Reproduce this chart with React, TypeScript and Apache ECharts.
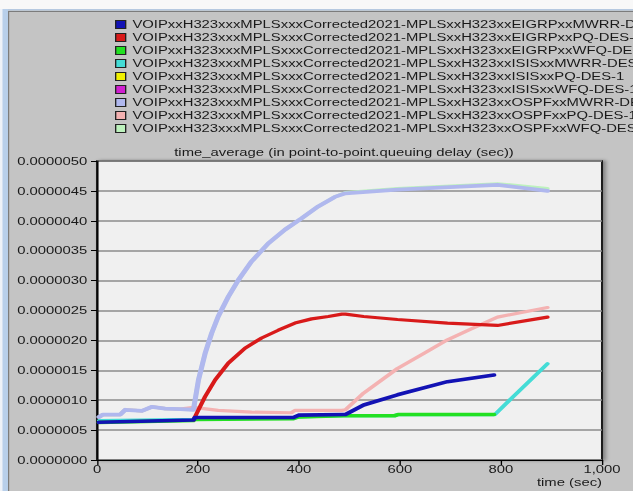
import React, { useEffect, useRef } from "react";
import * as echarts from "echarts";

// ---------- data (time in sec, delay in microseconds) ----------
const seriesNames = [
  "VOIPxxH323xxxMPLSxxxCorrected2021-MPLSxxH323xxEIGRPxxMWRR-DES-1",
  "VOIPxxH323xxxMPLSxxxCorrected2021-MPLSxxH323xxEIGRPxxPQ-DES-1",
  "VOIPxxH323xxxMPLSxxxCorrected2021-MPLSxxH323xxEIGRPxxWFQ-DES-1",
  "VOIPxxH323xxxMPLSxxxCorrected2021-MPLSxxH323xxISISxxMWRR-DES-1",
  "VOIPxxH323xxxMPLSxxxCorrected2021-MPLSxxH323xxISISxxPQ-DES-1",
  "VOIPxxH323xxxMPLSxxxCorrected2021-MPLSxxH323xxISISxxWFQ-DES-1",
  "VOIPxxH323xxxMPLSxxxCorrected2021-MPLSxxH323xxOSPFxxMWRR-DES-1",
  "VOIPxxH323xxxMPLSxxxCorrected2021-MPLSxxH323xxOSPFxxPQ-DES-1",
  "VOIPxxH323xxxMPLSxxxCorrected2021-MPLSxxH323xxOSPFxxWFQ-DES-1",
];
const seriesColors = ["#1212b4", "#d81a1a", "#22e022", "#44dcd6", "#f0f000", "#d020d0", "#b0b8ee", "#f4b2b2", "#bdf2bd"];

const eigrpMwrrTime = [4, 191, 194, 389, 399, 489, 492, 528, 595, 694, 786];
const eigrpMwrrDelay = [0.63, 0.67, 0.71, 0.71, 0.75, 0.76, 0.76, 0.92, 1.09, 1.31, 1.42];

const eigrpPqTime = [191, 201, 214, 234, 260, 293, 326, 359, 392, 425, 458, 485, 492, 528, 595, 694, 793, 892];
const eigrpPqDelay = [0.67, 0.84, 1.06, 1.34, 1.62, 1.87, 2.04, 2.17, 2.29, 2.36, 2.4, 2.44, 2.44, 2.4, 2.35, 2.29, 2.25, 2.39];

const eigrpWfqTime = [4, 191, 194, 389, 399, 489, 589, 596, 786];
const eigrpWfqDelay = [0.63, 0.66, 0.68, 0.69, 0.72, 0.74, 0.74, 0.76, 0.76];

const isisMwrrTime = [4, 191, 194, 389, 399, 489, 589, 596, 788, 823, 892];
const isisMwrrDelay = [0.66, 0.68, 0.69, 0.7, 0.72, 0.74, 0.74, 0.76, 0.76, 1.05, 1.61];

const isisPqTime: number[] = [];
const isisPqDelay: number[] = [];
const isisWfqTime: number[] = [];
const isisWfqDelay: number[] = [];

const ospfMwrrTime = [4, 12, 46, 56, 89, 109, 135, 165, 191, 201, 214, 227, 240, 260, 280, 306, 339, 372, 405, 438, 471, 492, 595, 793, 892];
const ospfMwrrDelay = [0.72, 0.76, 0.76, 0.84, 0.82, 0.89, 0.86, 0.85, 0.84, 1.34, 1.78, 2.12, 2.4, 2.73, 3.01, 3.32, 3.62, 3.85, 4.04, 4.24, 4.4, 4.46, 4.52, 4.6, 4.5];

const ospfPqTime = [4, 12, 46, 56, 89, 109, 135, 165, 191, 240, 306, 385, 392, 485, 492, 528, 595, 647, 694, 740, 793, 892];
const ospfPqDelay = [0.72, 0.76, 0.76, 0.84, 0.82, 0.89, 0.86, 0.85, 0.88, 0.83, 0.8, 0.79, 0.83, 0.83, 0.84, 1.12, 1.53, 1.78, 2.01, 2.19, 2.39, 2.55];

const ospfWfqTime = [4, 12, 46, 56, 89, 109, 135, 165, 191, 201, 214, 227, 240, 260, 280, 306, 339, 372, 405, 438, 471, 492, 595, 793, 892];
const ospfWfqDelay = [0.72, 0.76, 0.76, 0.84, 0.82, 0.89, 0.86, 0.85, 0.84, 1.34, 1.78, 2.12, 2.4, 2.73, 3.01, 3.32, 3.62, 3.85, 4.04, 4.24, 4.4, 4.47, 4.54, 4.62, 4.54];

const seriesTimes = [eigrpMwrrTime, eigrpPqTime, eigrpWfqTime, isisMwrrTime, isisPqTime, isisWfqTime, ospfMwrrTime, ospfPqTime, ospfWfqTime];
const seriesDelays = [eigrpMwrrDelay, eigrpPqDelay, eigrpWfqDelay, isisMwrrDelay, isisPqDelay, isisWfqDelay, ospfMwrrDelay, ospfPqDelay, ospfWfqDelay];
const lineWidths = [3.6, 3.2, 3.6, 3.2, 3.2, 3.2, 3.8, 3.2, 3.2];

const titleText = "time_average (in point-to-point.queuing delay (sec))";
const xAxisName = "time (sec)";

// ---------- layout ----------
const PAGE_W = 633;
const PAGE_H = 491;
const W = 469; // unscaled chart width
const S = PAGE_W / W; // horizontal stretch
const rx = (px: number) => px / S;
const FONT = "Arial, 'Liberation Sans', sans-serif";

export default function App() {
  const ref = useRef<HTMLDivElement>(null);
  useEffect(() => {
    if (!ref.current) return;
    const chart = echarts.init(ref.current, undefined, { renderer: "svg" });
    const series = seriesNames.map((name, i) => ({
      name,
      type: "line",
      z: 20 - i,
      showSymbol: false,
      symbol: "none",
      color: seriesColors[i],
      lineStyle: { width: lineWidths[i], color: seriesColors[i], cap: "round", join: "round" },
      data: seriesTimes[i].map((t, k) => [t, seriesDelays[i][k] * 1e-6]),
    }));
    chart.setOption({
      animation: false,
      backgroundColor: "#c4c4c4",
      textStyle: { fontFamily: FONT },
      graphic: [
        { type: "rect", z: -10, shape: { x: 0, y: 0, width: W, height: 9 }, style: { fill: "#f8f8f8" } },
        { type: "rect", z: -10, shape: { x: 0, y: 9, width: W, height: 1.5 }, style: { fill: "#b6c9e0" } },
        { type: "rect", z: -10, shape: { x: 0, y: 9, width: rx(8), height: PAGE_H - 9 }, style: { fill: "#b8cfea" } },
        { type: "rect", z: -10, shape: { x: 0, y: 9, width: rx(2.5), height: PAGE_H - 9 }, style: { fill: "#eef2f8" } },
        { type: "rect", z: -10, shape: { x: rx(8), y: 11, width: W, height: 1 }, style: { fill: "#7c7c7c" } },
        { type: "rect", z: -10, shape: { x: rx(8), y: 11, width: rx(1.2), height: PAGE_H - 11 }, style: { fill: "#7c7c7c" } },
      ],
      title: {
        text: titleText,
        left: rx(344),
        top: 147,
        padding: 0,
        textAlign: "center",
        textStyle: { fontSize: 11, fontWeight: "normal", color: "#1a1a1a", fontFamily: FONT },
      },
      legend: {
        orient: "vertical",
        left: rx(115),
        top: 18,
        padding: 0,
        itemGap: 0,
        itemWidth: rx(10),
        itemHeight: 8,
        icon: "rect",
        selectedMode: false,
        itemStyle: { borderColor: "#222", borderWidth: 1 },
        textStyle: { fontSize: 11, lineHeight: 13, color: "#1a1a1a", fontFamily: FONT },
        data: seriesNames,
      },
      grid: {
        left: rx(97),
        right: W - rx(602),
        top: 161,
        bottom: PAGE_H - 460,
        show: true,
        backgroundColor: "#f0f0f0",
        borderColor: "#1a1a1a",
        borderWidth: 1.5,
        shadowColor: "rgba(0,0,0,0.35)",
        shadowBlur: 3,
        shadowOffsetX: 2,
        shadowOffsetY: 0,
      },
      xAxis: {
        type: "value",
        min: 0,
        max: 1000,
        interval: 200,
        name: xAxisName,
        nameLocation: "end",
        nameGap: 0,
        nameTextStyle: { align: "right", verticalAlign: "top", padding: [17, 0, 0, 0], fontSize: 11, color: "#1a1a1a" },
        axisLine: { show: true, lineStyle: { color: "#000", width: 1 } },
        axisTick: { show: true, length: 5, lineStyle: { color: "#000" } },
        axisLabel: {
          fontSize: 11,
          color: "#1a1a1a",
          margin: 4,
          formatter: (v: number) => v.toLocaleString("en-US"),
        },
        splitLine: { show: false },
      },
      yAxis: {
        type: "value",
        min: 0,
        max: 5e-6,
        interval: 5e-7,
        axisLine: { show: true, lineStyle: { color: "#000", width: 1 } },
        axisTick: { show: true, length: rx(6), lineStyle: { color: "#000" } },
        axisLabel: {
          fontSize: 11,
          color: "#1a1a1a",
          margin: rx(9.7),
          formatter: (v: number) => v.toFixed(7),
        },
        splitLine: { show: true, lineStyle: { color: "#8c8c8c", width: 1.5 } },
      },
      series,
    });
    return () => chart.dispose();
  }, []);

  return (
    <div style={{ position: "fixed", left: 0, top: 0, width: PAGE_W, height: PAGE_H, overflow: "hidden", background: "#c4c4c4" }}>
      <div
        ref={ref}
        style={{ width: W, height: PAGE_H, transform: `scaleX(${S})`, transformOrigin: "0 0" }}
      />
    </div>
  );
}
